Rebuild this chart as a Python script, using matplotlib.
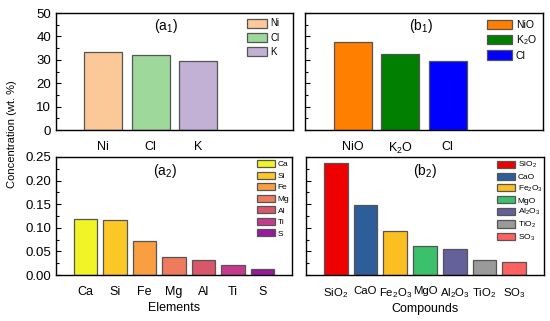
import matplotlib
matplotlib.use("Agg")
import matplotlib.pyplot as plt
from matplotlib.ticker import MultipleLocator

plt.rcParams['font.family'] = ['Liberation Sans', 'DejaVu Sans']
plt.rcParams['mathtext.default'] = 'regular'

# Data
a1_labels = ["Ni", "Cl", "K"]
a1_values = [33.3, 32.1, 29.6]
a1_colors = ["#FBC897", "#9FD89B", "#C2B0D5"]

b1_labels = ["NiO", "K$_2$O", "Cl"]
b1_values = [37.4, 32.3, 29.7]
b1_colors = ["#FF7F00", "#007F00", "#0000FF"]

a2_labels = ["Ca", "Si", "Fe", "Mg", "Al", "Ti", "S"]
a2_values = [0.119, 0.116, 0.073, 0.038, 0.031, 0.021, 0.012]
a2_colors = ["#F1F425", "#FCC827", "#F99E41", "#EE7B5B", "#D9576B", "#C43B8E", "#9B179E"]

b2_labels = ["SiO$_2$", "CaO", "Fe$_2$O$_3$", "MgO", "Al$_2$O$_3$", "TiO$_2$", "SO$_3$"]
b2_values = [0.237, 0.149, 0.094, 0.061, 0.056, 0.032, 0.027]
b2_colors = ["#EE0000", "#2E5E99", "#FCBF22", "#3BC06C", "#64609A", "#9A9A9A", "#FF6060"]

fig = plt.figure(figsize=(5.5, 3.21), dpi=100)
W, H = 550, 321

def ax_at(l, t, r, b):
    return fig.add_axes([l / W, 1 - b / H, (r - l) / W, (b - t) / H])

ax_a1 = ax_at(56, 13, 293, 130)
ax_b1 = ax_at(305, 13, 543, 130)
ax_a2 = ax_at(56, 157, 292, 275)
ax_b2 = ax_at(306, 157, 544, 275)

def draw(ax, labels, values, colors, ylim, major, minor, title, tx, ty, showy, xlim,
         xfs, leg_xy, legfs, hl, hh, ls):
    x = list(range(len(labels)))
    bars = ax.bar(x, values, width=0.8, color=colors, edgecolor="#555555", linewidth=0.9)
    for b, lab in zip(bars, labels):
        b.set_label(lab)
    ax.set_xlim(*xlim)
    ax.set_ylim(*ylim)
    ax.set_xticks(x)
    ax.set_xticklabels(labels, fontsize=xfs)
    ax.tick_params(axis='x', length=0, pad=8)
    ax.yaxis.set_major_locator(MultipleLocator(major))
    ax.yaxis.set_minor_locator(MultipleLocator(minor))
    ax.tick_params(axis='y', which='major', direction='in', length=3.5, width=0.8, labelsize=9.5)
    ax.tick_params(axis='y', which='minor', direction='in', length=2, width=0.8)
    if not showy:
        ax.tick_params(axis='y', labelleft=False)
    for s in ax.spines.values():
        s.set_linewidth(1.0)
    ax.text(tx, ty, title, transform=ax.transAxes, ha='center', va='center', fontsize=10)
    ax.legend(loc='upper left', bbox_to_anchor=(leg_xy[0] / W, 1 - leg_xy[1] / H),
              bbox_transform=fig.transFigure, frameon=False, fontsize=legfs,
              handlelength=hl, handleheight=hh, labelspacing=ls,
              handletextpad=0.35, borderaxespad=0, borderpad=0)

draw(ax_a1, a1_labels, a1_values, a1_colors, (0, 50), 10, 5, "(a$_1$)", 0.465, 0.89, True, (-1, 4),
     9, (247, 18.5), 7, 2.06, 1.03, 0.45)
draw(ax_b1, b1_labels, b1_values, b1_colors, (0, 50), 10, 5, "(b$_1$)", 0.487, 0.89, False, (-1, 4),
     9, (487, 19.5), 7.5, 2.4, 1.03, 0.32)
draw(ax_a2, a2_labels, a2_values, a2_colors, (0, 0.25), 0.05, 0.025, "(a$_2$)", 0.46, 0.885, True, (-1, 7),
     9, (257, 160), 6, 2.12, 0.92, 0.38)
draw(ax_b2, b2_labels, b2_values, b2_colors, (0, 0.25), 0.05, 0.025, "(b$_2$)", 0.50, 0.885, False, (-1, 7),
     8.2, (497, 160), 6, 2.12, 0.92, 0.3)

ax_a2.set_yticks([0, 0.05, 0.10, 0.15, 0.20, 0.25])
ax_a2.set_yticklabels(["0.00", "0.05", "0.10", "0.15", "0.20", "0.25"])

ax_a2.set_xlabel("Elements", fontsize=9, labelpad=3)
ax_b2.set_xlabel("Compounds", fontsize=9, labelpad=2)

fig.text(12 / W, 1 - 134 / H, "Concentration (wt. %)", rotation=90, ha='center', va='center', fontsize=8)

fig.savefig("out.png", dpi=100)
